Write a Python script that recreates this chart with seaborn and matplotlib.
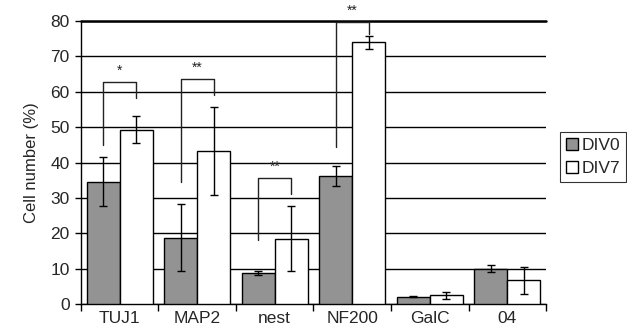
import matplotlib
matplotlib.use("Agg")
import matplotlib.pyplot as plt
import seaborn as sns
import pandas as pd
import numpy as np

# --- data ---
markers = ['TUJ1', 'MAP2', 'nest', 'NF200', 'GalC', '04']
div0 = [34.6, 18.8, 8.7, 36.3, 2.1, 10.0]
div0_err = [6.9, 9.5, 0.6, 2.8, 0.2, 1.0]
div7 = [49.2, 43.2, 18.5, 74.0, 2.5, 6.7]
div7_err = [3.8, 12.5, 9.2, 1.8, 1.0, 3.8]

# significance brackets: (group index, left leg bottom, top, right leg bottom, label)
brackets = [
    (0, 45.0, 62.8, 58.3, '*'),
    (1, 34.5, 63.7, 59.2, '**'),
    (2, 18.0, 35.7, 31.2, '**'),
    (3, 44.5, 79.6, 76.2, '**'),
]

df = pd.DataFrame({
    'Marker': markers * 2,
    'Value': div0 + div7,
    'Group': ['DIV0'] * len(markers) + ['DIV7'] * len(markers),
})

sns.set_style('white')
plt.rcParams['font.family'] = ['Liberation Sans', 'DejaVu Sans']

fig = plt.figure(figsize=(6.27, 3.32), dpi=100)
ax = fig.add_axes([0.129, 0.084, 0.742, 0.853])

sns.barplot(data=df, x='Marker', y='Value', hue='Group', order=markers,
            palette={'DIV0': '#939393', 'DIV7': 'white'}, edgecolor='black',
            linewidth=1.0, width=0.85, errorbar=None, ax=ax, zorder=3)

# error bars on top of each bar
n = len(markers)
patches = [p for p in ax.patches if p.get_height() > 0 or p.get_width() > 0][:2 * n]
xs = [p.get_x() + p.get_width() / 2 for p in patches]
ax.errorbar(xs[:n], div0, yerr=div0_err, fmt='none', ecolor='black',
            elinewidth=1.0, capsize=3, capthick=1.0, zorder=4)
ax.errorbar(xs[n:], div7, yerr=div7_err, fmt='none', ecolor='black',
            elinewidth=1.0, capsize=3, capthick=1.0, zorder=4)

# significance brackets
for i, lo, top, rlo, lab in brackets:
    xl, xr = xs[i], xs[n + i]
    ax.plot([xl, xl, xr, xr], [lo, top, top, rlo], color='#222222', lw=1.0,
            zorder=5, clip_on=False)
    ax.text((xl + xr) / 2, top + 1.2, lab, ha='center', va='bottom',
            fontsize=10, color='#222222', zorder=6, clip_on=False)

ax.set_ylim(0, 80)
ax.set_xlim(-0.5, n - 0.5)
ax.set_yticks(range(0, 81, 10))
ax.yaxis.grid(True, color='black', lw=1.0, zorder=0)
ax.set_axisbelow(True)
ax.axhline(80, color='black', lw=1.8, zorder=1, clip_on=False)

ax.set_xticks(range(n))
ax.set_xticklabels(markers)
ax.set_xticks(np.arange(-0.5, n, 1.0), minor=True)
ax.tick_params(axis='x', which='major', length=0, labelsize=12.5, pad=5)
ax.tick_params(axis='x', which='minor', direction='out', length=5,
               width=1.0, color='black', bottom=True)
ax.tick_params(axis='y', direction='out', length=4, width=1.0,
               color='black', left=True, labelsize=12.5, pad=4)

ax.set_xlabel('')
ax.set_ylabel('Cell number (%)', fontsize=12, labelpad=8)

for side in ['top', 'right']:
    ax.spines[side].set_visible(False)
for side in ['left', 'bottom']:
    ax.spines[side].set_color('black')
    ax.spines[side].set_linewidth(1.0)

leg = ax.legend(loc='center left', bbox_to_anchor=(1.03, 0.52), frameon=True,
                fancybox=False, edgecolor='black', fontsize=12.5,
                handlelength=0.7, handleheight=0.7, handletextpad=0.2,
                borderpad=0.35, labelspacing=0.45, borderaxespad=0)
leg.get_frame().set_linewidth(0.8)

fig.savefig('out.png', dpi=100)
